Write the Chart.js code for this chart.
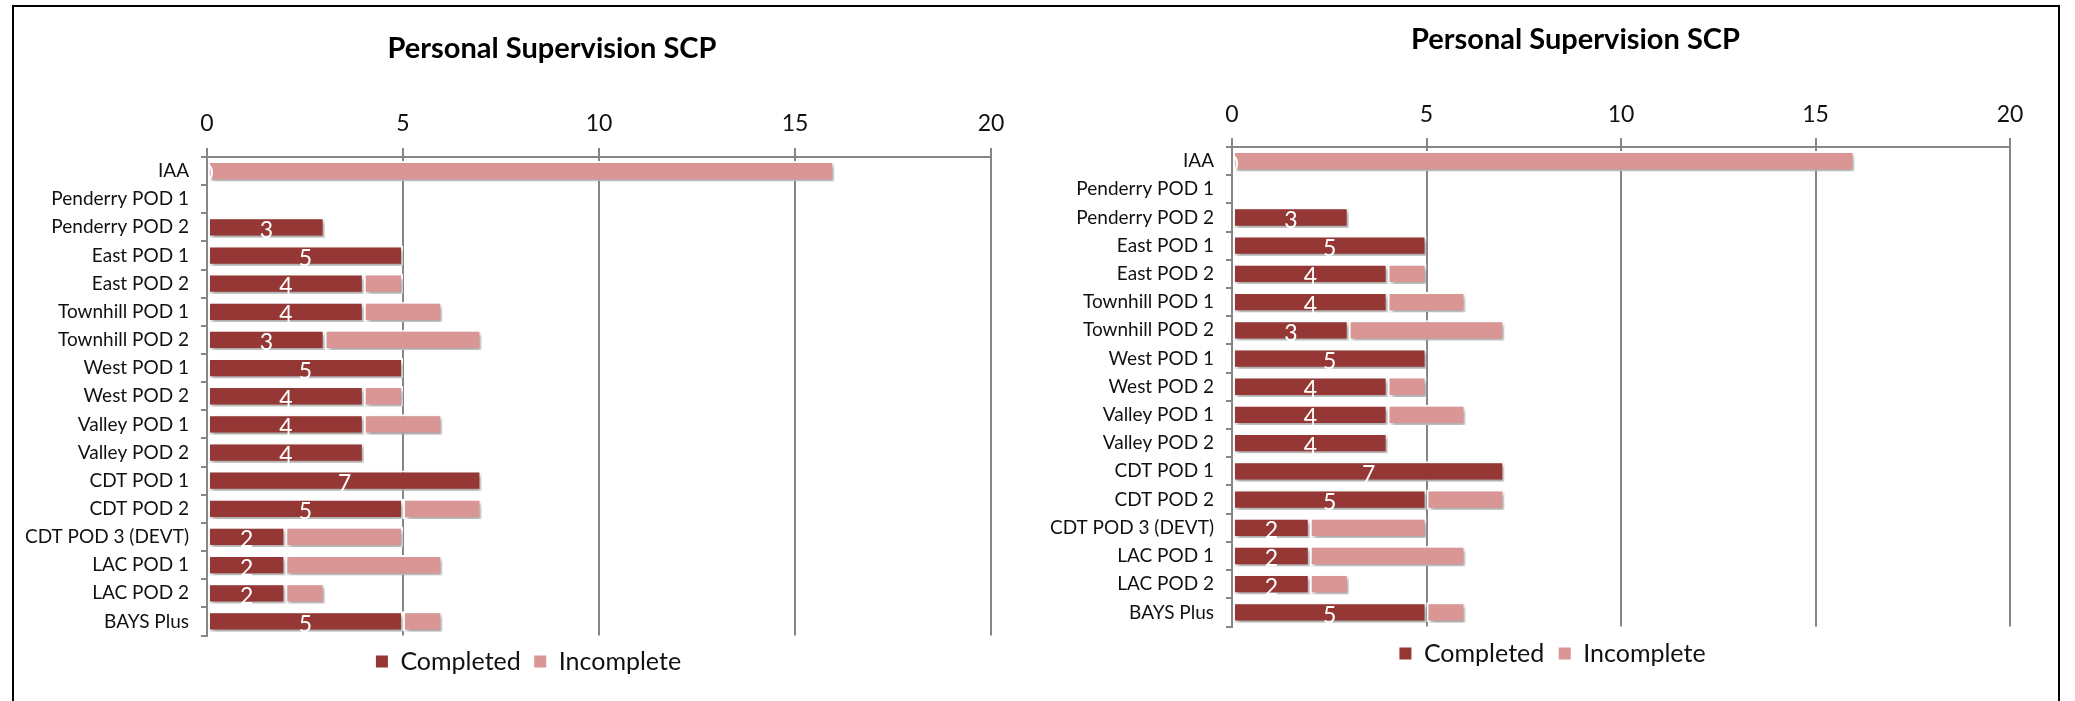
<!DOCTYPE html>
<html>
<head>
<meta charset="utf-8">
<script src="https://cdn.jsdelivr.net/npm/chart.js@4.4.1/dist/chart.umd.min.js"></script>
<style>
  html, body { margin: 0; padding: 0; background: #fff; width: 2075px; height: 701px; overflow: hidden; }
  .box { position: absolute; top: 5px; height: 720px; background: #fff; box-sizing: content-box; }
  #boxL { left: 12px; width: 1026px; border-left: 2px solid #000; border-top: 2px solid #000; border-right: 2px solid #000; }
  #boxR { left: 1040px; width: 1018px; border-top: 2px solid #000; border-right: 2px solid #000; }
  canvas { position: absolute; left: 0; top: 0; }
</style>
</head>
<body>
<div class="box" id="boxL"><canvas id="cL" width="1026" height="694"></canvas></div>
<div class="box" id="boxR"><canvas id="cR" width="1018" height="694"></canvas></div>
<script>
const chartTitle = 'Personal Supervision SCP';
const categories = ['IAA', 'Penderry POD 1', 'Penderry POD 2', 'East POD 1', 'East POD 2',
  'Townhill POD 1', 'Townhill POD 2', 'West POD 1', 'West POD 2', 'Valley POD 1', 'Valley POD 2',
  'CDT POD 1', 'CDT POD 2', 'CDT POD 3 (DEVT)', 'LAC POD 1', 'LAC POD 2', 'BAYS Plus'];
const completed  = [0, null, 3, 5, 4, 4, 3, 5, 4, 4, 4, 7, 5, 2, 2, 2, 5];
const incomplete = [16, null, 0, 0, 1, 2, 4, 0, 1, 2, 0, 0, 2, 3, 4, 1, 1];
const seriesNames = ['Completed', 'Incomplete'];
const xMin = 0, xMax = 20, xStep = 5;

const COL_DARK = '#953735';
const COL_PINK = '#D99694';
const GRID = '#868686';
const FONT = 'Lato, "Open Sans", sans-serif';
const TEXT = '#111';

const shadowPlugin = {
  id: 'barShadow',
  beforeDatasetsDraw(chart) {
    const c = chart.ctx;
    c.save();
    c.shadowColor = 'rgba(0,0,0,0.35)';
    c.shadowOffsetX = 2;
    c.shadowOffsetY = 3;
    c.shadowBlur = 4;
  },
  afterDatasetsDraw(chart) { chart.ctx.restore(); }
};

const valueLabels = {
  id: 'valueLabels',
  afterDatasetsDraw(chart) {
    const c = chart.ctx, a = chart.chartArea;
    const meta = chart.getDatasetMeta(0);
    c.save();
    c.beginPath();
    c.rect(a.left + 1, a.top, a.right - a.left, a.bottom - a.top);
    c.clip();
    c.fillStyle = '#fff';
    c.font = '23px ' + FONT;
    c.textAlign = 'center';
    c.textBaseline = 'middle';
    meta.data.forEach((bar, i) => {
      const v = chart.data.datasets[0].data[i];
      if (v === null || v === undefined) return;
      const cx = (bar.x + bar.base) / 2;
      c.fillText(String(v), cx, bar.y + 3);
    });
    c.restore();
  }
};

const shiftBoxes = {
  id: 'shiftBoxes',
  afterLayout(chart, args, opts) {
    if (chart.titleBlock) { chart.titleBlock.left += opts.titleDx; chart.titleBlock.right += opts.titleDx; }
    if (chart.legend) {
      chart.legend.left += opts.legendDx; chart.legend.right += opts.legendDx;
    }
  }
};

function makeChart(id, L) {
  return new Chart(document.getElementById(id), {
    type: 'bar',
    data: {
      labels: categories,
      datasets: [
        { label: seriesNames[0], data: completed, backgroundColor: COL_DARK, borderColor: '#fff',
          borderWidth: ctx => (ctx.raw ? 2 : 0), borderSkipped: false,
          categoryPercentage: 1.0, barPercentage: 0.72 },
        { label: seriesNames[1], data: incomplete, backgroundColor: COL_PINK, borderColor: '#fff',
          borderWidth: ctx => (ctx.raw ? 2 : 0), borderSkipped: false,
          categoryPercentage: 1.0, barPercentage: 0.72 }
      ]
    },
    options: {
      indexAxis: 'y',
      responsive: false,
      animation: false,
      devicePixelRatio: 1,
      layout: { padding: { left: L.padL, right: L.padR, top: 0, bottom: L.padB } },
      scales: {
        x: {
          position: 'top', stacked: true, min: xMin, max: xMax,
          ticks: { stepSize: xStep, color: TEXT, font: { family: FONT, size: 23 }, padding: L.tickPad },
          grid: { color: GRID, lineWidth: 2, tickLength: 9, drawTicks: true },
          border: { display: true, color: GRID, width: 2 },
          afterFit(s) { s.height = L.xH; }
        },
        y: {
          stacked: true,
          ticks: { color: TEXT, font: { family: FONT, size: 19 }, padding: 12, autoSkip: false },
          grid: { offset: true, drawOnChartArea: false, color: GRID, lineWidth: 2, tickLength: 6 },
          border: { display: true, color: GRID, width: 2 },
          afterFit(s) { s.width = L.yW; }
        }
      },
      plugins: {
        title: { display: true, text: chartTitle, color: '#000',
          font: { family: FONT, size: 29, weight: 'bold' },
          padding: { top: L.titleTop, bottom: 10 } },
        legend: {
          position: 'bottom',
          labels: {
            color: TEXT, font: { family: FONT, size: 25 }, boxWidth: 12, boxHeight: 12,
            padding: L.legPad,
            generateLabels(chart) {
              return chart.data.datasets.map((d, i) => ({
                text: d.label, fillStyle: d.backgroundColor, strokeStyle: d.backgroundColor,
                lineWidth: 0, hidden: false, datasetIndex: i, fontColor: TEXT
              }));
            }
          }
        },
        shiftBoxes: { titleDx: L.titleDx, legendDx: L.legendDx },
        tooltip: { enabled: false }
      }
    },
    plugins: [shadowPlugin, valueLabels, shiftBoxes]
  });
}

makeChart('cL', { padL: 4, padR: 49, padB: 17, yW: 189, xH: 150 - (34.8 + 24.6 + 10), tickPad: 10.6, titleTop: 24.6, legPad: 13.5, titleDx: 47.5, legendDx: 24 });
makeChart('cR', { padL: 4, padR: 48, padB: 25, yW: 188, xH: 140 - (34.8 + 15.6 + 10), tickPad: 9.6, titleTop: 15.6, legPad: 14.5, titleDx: 48.5, legendDx: 25.5 });
</script>
</body>
</html>
